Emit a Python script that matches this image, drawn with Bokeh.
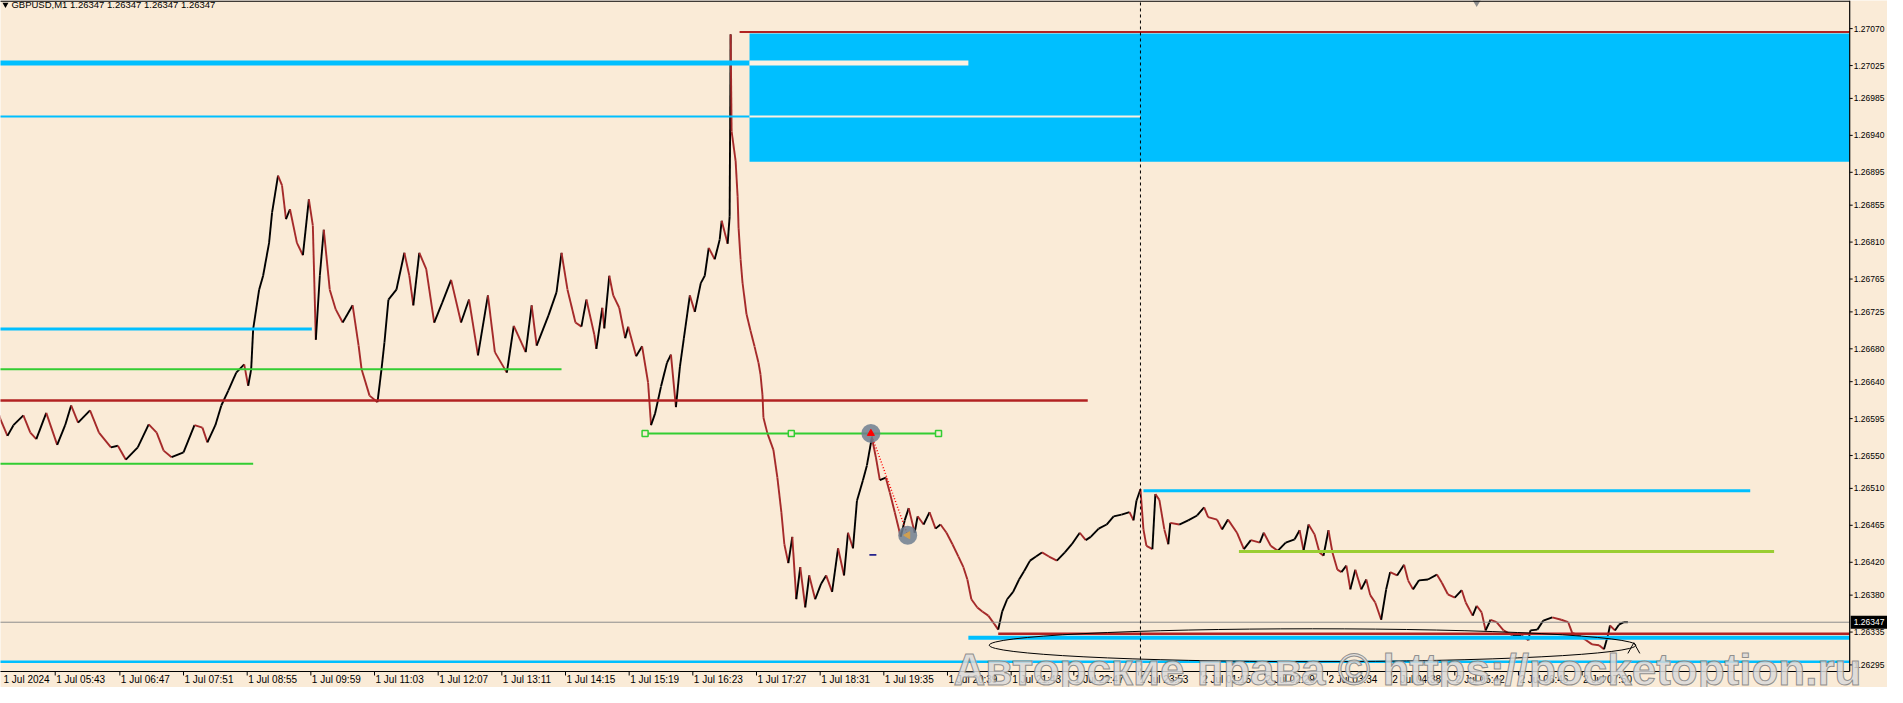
import numpy as np
from bokeh.plotting import figure
from bokeh.models import Range1d, ColumnDataSource
from bokeh.core.properties import value
from bokeh.embed import file_html
from bokeh.resources import INLINE

# ---------------- data ----------------
symbol_header = "GBPUSD,M1  1.26347 1.26347 1.26347 1.26347"
last_price = 1.26347

bar_index = [
    0, 4, 11, 17, 27, 34, 40, 50, 61, 69,
    75, 82, 94, 103, 115, 122, 130, 142, 153, 161,
    168, 176, 188, 199, 207, 212, 220, 226, 233, 241,
    249, 253, 256, 258, 264, 268, 274, 277, 283, 287,
    291, 295, 302, 308, 314, 318, 321, 325, 329, 335,
    341, 348, 358, 364, 367, 375, 383, 387, 390, 394,
    402, 410, 415, 419, 425, 432, 440, 448, 457, 467,
    475, 484, 494, 501, 513, 520, 532, 538, 543, 555,
    563, 568, 574, 582, 588, 593, 601, 603, 609, 611,
    616, 620, 626, 632, 635, 643, 649, 655, 658, 662,
    668, 674, 678, 683, 687, 691, 697, 702, 708, 712,
    716, 722, 727, 729, 735, 737, 738, 739, 743, 745,
    746, 748, 750, 754, 758, 762, 766, 768, 770, 771,
    775, 781, 785, 789, 792, 796, 800, 804, 808, 813,
    817, 823, 829, 834, 840, 846, 852, 856, 861, 865,
    871, 875, 880, 884, 888, 894, 898, 903, 909, 913,
    917, 923, 926, 932, 938, 944, 949, 955, 961, 967,
    972, 976, 980, 986, 991, 997, 1003, 1007, 1011, 1016,
    1022, 1028, 1033, 1039, 1045, 1051, 1058, 1066, 1074, 1081,
    1089, 1095, 1100, 1108, 1116, 1123, 1131, 1139, 1143, 1146,
    1150, 1153, 1156, 1162, 1165, 1169, 1174, 1178, 1180, 1189,
    1198, 1207, 1214, 1218, 1227, 1232, 1238, 1247, 1254, 1261,
    1270, 1274, 1281, 1288, 1296, 1305, 1310, 1314, 1319, 1325,
    1330, 1334, 1339, 1343, 1348, 1352, 1357, 1361, 1366, 1372,
    1377, 1381, 1386, 1392, 1397, 1401, 1408, 1415, 1419, 1424,
    1430, 1439, 1448, 1453, 1459, 1466, 1473, 1477, 1484, 1488,
    1493, 1497, 1502, 1508, 1515, 1524, 1533, 1540, 1542, 1549,
    1555, 1564, 1573, 1580, 1584, 1591, 1598, 1604, 1611, 1616,
    1620, 1622, 1627, 1631, 1636, 1640,
]

price = [
    1.26611, 1.26594, 1.26574, 1.26587, 1.26599, 1.26578, 1.26570, 1.26602, 1.26563, 1.26587,
    1.26611, 1.26590, 1.26605, 1.26578, 1.26560, 1.26562, 1.26545, 1.26560, 1.26588, 1.26578,
    1.26556, 1.26548, 1.26554, 1.26587, 1.26584, 1.26566, 1.26587, 1.26611, 1.26629, 1.26651,
    1.26661, 1.26635, 1.26655, 1.26704, 1.26752, 1.26769, 1.26809, 1.26846, 1.26891, 1.26879,
    1.26838, 1.26850, 1.26809, 1.26794, 1.26862, 1.26830, 1.26691, 1.26769, 1.26825, 1.26752,
    1.26728, 1.26712, 1.26733, 1.26684, 1.26655, 1.26623, 1.26615, 1.26655, 1.26688, 1.26740,
    1.26752, 1.26797, 1.26769, 1.26733, 1.26797, 1.26777, 1.26712, 1.26736, 1.26764, 1.26712,
    1.26740, 1.26672, 1.26745, 1.26676, 1.26651, 1.26708, 1.26676, 1.26733, 1.26684, 1.26721,
    1.26749, 1.26797, 1.26752, 1.26712, 1.26707, 1.26740, 1.26697, 1.26680, 1.26730, 1.26705,
    1.26769, 1.26745, 1.26730, 1.26693, 1.26707, 1.26671, 1.26683, 1.26639, 1.26587, 1.26601,
    1.26634, 1.26663, 1.26673, 1.26609, 1.26658, 1.26693, 1.26745, 1.26725, 1.26760, 1.26769,
    1.26803, 1.26789, 1.26813, 1.26836, 1.26808, 1.26841, 1.27063, 1.26945, 1.26909, 1.26866,
    1.26827, 1.26789, 1.26760, 1.26722, 1.26702, 1.26683, 1.26663, 1.26649, 1.26624, 1.26596,
    1.26577, 1.26557, 1.26523, 1.26481, 1.26442, 1.26419, 1.26451, 1.26375, 1.26414, 1.26365,
    1.26404, 1.26375, 1.26394, 1.26404, 1.26384, 1.26437, 1.26404, 1.26456, 1.26437, 1.26495,
    1.26520, 1.26538, 1.26572, 1.26548, 1.26520, 1.26523, 1.26505, 1.26481, 1.26451, 1.26471,
    1.26486, 1.26456, 1.26476, 1.26466, 1.26481, 1.26461, 1.26466, 1.26456, 1.26442, 1.26427,
    1.26414, 1.26399, 1.26375, 1.26365, 1.26360, 1.26355, 1.26345, 1.26338, 1.26360, 1.26375,
    1.26384, 1.26399, 1.26409, 1.26422, 1.26427, 1.26432, 1.26427, 1.26422, 1.26432, 1.26442,
    1.26456, 1.26447, 1.26451, 1.26461, 1.26466, 1.26476, 1.26478, 1.26481, 1.26471, 1.26495,
    1.26509, 1.26460, 1.26440, 1.26436, 1.26503, 1.26496, 1.26460, 1.26442, 1.26468, 1.26466,
    1.26471, 1.26477, 1.26487, 1.26475, 1.26472, 1.26460, 1.26472, 1.26456, 1.26436, 1.26447,
    1.26444, 1.26456, 1.26440, 1.26434, 1.26444, 1.26448, 1.26459, 1.26434, 1.26466, 1.26454,
    1.26432, 1.26428, 1.26459, 1.26432, 1.26411, 1.26408, 1.26416, 1.26387, 1.26411, 1.26387,
    1.26399, 1.26380, 1.26371, 1.26350, 1.26387, 1.26408, 1.26404, 1.26417, 1.26398, 1.26387,
    1.26398, 1.26399, 1.26405, 1.26395, 1.26381, 1.26377, 1.26386, 1.26371, 1.26355, 1.26367,
    1.26359, 1.26337, 1.26350, 1.26347, 1.26337, 1.26331, 1.26331, 1.26325, 1.26337, 1.26338,
    1.26349, 1.26353, 1.26350, 1.26347, 1.26334, 1.26331, 1.26325, 1.26320, 1.26319, 1.26314,
    1.26331, 1.26343, 1.26337, 1.26344, 1.26347, 1.26347,
]

x_tick_bars = [6, 59, 124, 188, 252, 316, 380, 444, 508, 572, 636, 700, 764, 828,
               892, 956, 1020, 1083, 1148, 1211, 1275, 1338, 1402, 1466, 1530, 1594]
x_tick_labels = ["1 Jul 2024", "1 Jul 05:43", "1 Jul 06:47", "1 Jul 07:51", "1 Jul 08:55",
                 "1 Jul 09:59", "1 Jul 11:03", "1 Jul 12:07", "1 Jul 13:11", "1 Jul 14:15",
                 "1 Jul 15:19", "1 Jul 16:23", "1 Jul 17:27", "1 Jul 18:31", "1 Jul 19:35",
                 "1 Jul 20:39", "1 Jul 21:43", "1 Jul 22:47", "1 Jul 23:53", "2 Jul 01:15",
                 "2 Jul 02:29", "2 Jul 03:34", "2 Jul 04:38", "2 Jul 05:42", "2 Jul 06:46",
                 "2 Jul 07:50"]

y_tick_values = [1.27070, 1.27025, 1.26985, 1.26940, 1.26895, 1.26855, 1.26810, 1.26765,
                 1.26725, 1.26680, 1.26640, 1.26595, 1.26550, 1.26510, 1.26465, 1.26420,
                 1.26380, 1.26335, 1.26295]
y_tick_labels = ["%.5f" % v for v in y_tick_values]

# zone rectangle (bars / prices)
zone_left, zone_right = 757, 1863
zone_bottom, zone_top = 1.26908, 1.27064

# horizontal level objects (price, start bar, end bar)
level_price = [1.27066, 1.27028, 1.27028, 1.26963, 1.26963, 1.26704, 1.26655, 1.26617,
               1.26540, 1.26577, 1.26507, 1.26433, 1.26299, 1.26328, 1.26333]
level_start = [747, 0, 757, 0, 757, 0, 0, 0, 0, 652, 1153, 1249, 0, 977, 1007]
level_end = [1863, 757, 977, 757, 1150, 317, 568, 1097, 258, 947, 1763, 1787, 1863, 1863, 1863]

handle_bars = [652, 799, 947]
handle_price = 1.26577
signal_bars = [879, 916]
signal_prices = [1.26577, 1.26453]
dash_bar, dash_price = 881, 1.26429
cursor_bar = 1150
ellipse_bar, ellipse_price = 1323, 1.26319
ellipse_bars_wide, ellipse_price_tall = 650, 0.00040
arrow_bars = [1640, 1646, 1652]
arrow_prices = [1.26309, 1.26322, 1.26309]
shift_bar = 1488
watermark = "Авторские права © https://pocketoption.ru"
watermark_bar, watermark_price = 962, 1.26289

# chart frame in bar / price units
frame_right_bar = 1863
frame_bottom_price = 1.26287

# ---------------- styles ----------------
BG = "#FAEBD7"
CYAN = "#00BFFF"
CREAM = "#FBF1E2"
RED = "#B22222"
GREEN = "#32CD32"
YGREEN = "#9ACD32"
level_color = [RED, CYAN, CREAM, CYAN, CREAM, CYAN, GREEN, RED, GREEN, GREEN, CYAN, YGREEN,
               CYAN, CYAN, RED]
level_width = [2, 5, 5, 2, 2, 3, 2, 2.5, 2, 2, 3, 3, 2.5, 4, 2.5]
FONT = "Liberation Sans"

PX = 1.218e-5            # price per screen pixel in the reference
x_lo, x_hi = 4, 1901
y_hi = 1.27114 - 8 * PX
y_lo = 1.27114 - 695 * PX

p = figure(width=1887, height=687, x_range=Range1d(x_lo, x_hi), y_range=Range1d(y_lo, y_hi),
           x_axis_location=None, y_axis_location=None,
           output_backend="svg", toolbar_location=None,
           min_border=0, min_border_left=0, min_border_right=0,
           min_border_top=0, min_border_bottom=0,
           background_fill_color=BG, border_fill_color=BG)
p.outline_line_color = None
p.xgrid.visible = False
p.ygrid.visible = False

# zone
p.quad(left=[zone_left], right=[zone_right], bottom=[zone_bottom], top=[zone_top],
       fill_color=CYAN, line_color=None)

# price path
bx = np.array(bar_index, dtype=float)
pr = np.array(price)
seg_col = np.where(np.diff(pr) >= 0, "black", "#A52A2A")
seg = ColumnDataSource(dict(x0=bx[:-1], x1=bx[1:], y0=pr[:-1], y1=pr[1:], c=seg_col))
p.segment(x0="x0", y0="y0", x1="x1", y1="y1", line_color="c", line_width=1.9, source=seg)

# levels
lv = ColumnDataSource(dict(x0=level_start, x1=level_end, y=level_price,
                           c=level_color, w=level_width))
p.segment(x0="x0", y0="y", x1="x1", y1="y", line_color="c", line_width="w", source=lv)

# bid line
p.segment(x0=[0], x1=[frame_right_bar], y0=[last_price], y1=[last_price],
          line_color="#8c8c8c", line_width=1)
# cursor line
p.segment(x0=[cursor_bar], x1=[cursor_bar], y0=[frame_bottom_price], y1=[y_hi],
          line_color="black", line_width=1, line_dash="3 3")

# ellipse object with its arrow tip
p.ellipse(x=[ellipse_bar], y=[ellipse_price], width=[ellipse_bars_wide],
          height=[ellipse_price_tall], fill_color=None, line_color="black", line_width=1)
p.line(x=arrow_bars, y=arrow_prices, line_color="black", line_width=1)

# handles on the green level
p.scatter(x=handle_bars, y=[handle_price] * len(handle_bars), marker="square", size=6,
          fill_color=BG, line_color=GREEN, line_width=1.5)

# signal circles and connector
p.line(x=signal_bars, y=signal_prices, line_color="red", line_dash="1 2", line_width=1.5)
p.scatter(x=signal_bars, y=signal_prices, marker="circle", size=19,
          fill_color="#6f7f90", fill_alpha=0.85, line_color=None)
p.scatter(x=[signal_bars[0]], y=[signal_prices[0]], marker="triangle", size=7,
          fill_color="red", line_color="red")
p.scatter(x=[signal_bars[1]], y=[signal_prices[1]], marker="triangle", angle=1.5708, size=7,
          fill_color="#d0a050", line_color="#d0a050")
p.scatter(x=[dash_bar], y=[dash_price], marker="dash", size=7, line_color="navy", line_width=1.5)

# chart-shift marker at the top
p.scatter(x=[shift_bar], y=[y_hi - 2 * PX], marker="inverted_triangle", size=8,
          fill_color="#8c8c8c", line_color=None)

# ---- frame and price / time scales ----
frame = dict(x0=[0, frame_right_bar, 0],
             x1=[frame_right_bar, frame_right_bar, frame_right_bar],
             y0=[y_hi - 0.6 * PX, y_hi, frame_bottom_price],
             y1=[y_hi - 0.6 * PX, frame_bottom_price, frame_bottom_price])
p.segment(x0="x0", x1="x1", y0="y0", y1="y1", source=ColumnDataSource(frame),
          line_color="black", line_width=1.2)

# price scale ticks + labels
n_y = len(y_tick_values)
p.segment(x0=[frame_right_bar] * n_y, x1=[frame_right_bar + 3] * n_y,
          y0=y_tick_values, y1=y_tick_values, line_color="black", line_width=1)
p.text(x=[frame_right_bar + 4] * n_y, y=y_tick_values, text=y_tick_labels,
       text_font=value(FONT), text_font_size="8.5px", text_baseline="middle",
       text_align="left", text_color="black")

# time scale ticks + labels
n_x = len(x_tick_bars)
p.segment(x0=x_tick_bars[1:], x1=x_tick_bars[1:],
          y0=[frame_bottom_price] * (n_x - 1), y1=[frame_bottom_price - 4 * PX] * (n_x - 1),
          line_color="black", line_width=1)
p.text(x=[b + 1 for b in x_tick_bars], y=[frame_bottom_price - 3 * PX] * n_x,
       text=x_tick_labels, text_font=value(FONT), text_font_size="10px",
       text_baseline="top", text_align="left", text_color="black")

# current price box on the price scale
p.quad(left=[frame_right_bar + 1], right=[x_hi], bottom=[last_price - 6.5 * PX],
       top=[last_price + 6.5 * PX], fill_color="black", line_color=None)
p.text(x=[frame_right_bar + 4], y=[last_price], text=["%.5f" % last_price],
       text_font=value(FONT), text_font_size="8.5px", text_baseline="middle",
       text_align="left", text_color="white")

# header
p.scatter(x=[9], y=[y_hi - 4 * PX], marker="inverted_triangle", size=6, fill_color="black",
          line_color=None)
p.text(x=[15], y=[y_hi - 4 * PX], text=[symbol_header], text_font=value(FONT),
       text_font_size="9.5px", text_baseline="middle", text_color="black")

# watermark
p.text(x=[watermark_bar], y=[watermark_price], text=[watermark], text_font=value(FONT),
       text_font_size="44px", text_font_style="bold", text_baseline="alphabetic",
       text_color="#dadada", text_alpha=0.85, text_outline_color="#808080")

open("out.html", "w").write(file_html(p, INLINE))
